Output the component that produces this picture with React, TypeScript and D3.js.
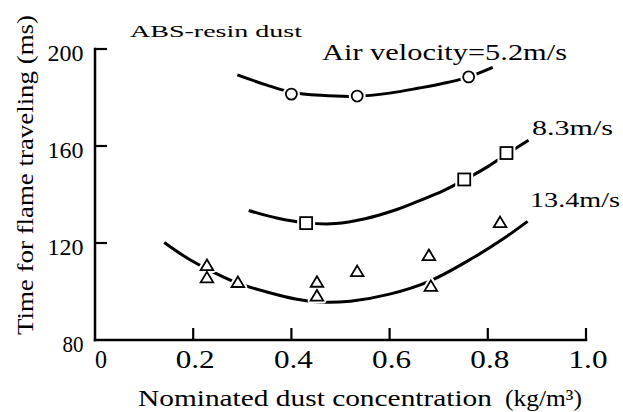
import React, { useLayoutEffect, useRef, useState } from "react";
import * as d3 from "d3";

// Measured points (x: kg/m³, y: ms)
const circles52: [number, number][] = [
  [0.4, 181.4],
  [0.534, 180.6],
  [0.761, 188.5],
];
const squares83: [number, number][] = [
  [0.43, 128.2],
  [0.752, 146.2],
  [0.838, 157.1],
];
const triangles134: [number, number][] = [
  [0.228, 110.5],
  [0.228, 105.4],
  [0.291, 103.5],
  [0.452, 103.6],
  [0.452, 97.9],
  [0.534, 108.0],
  [0.68, 114.6],
  [0.684, 101.9],
  [0.825, 128.2],
];

// Smoothed trend curves through the data
const curve52: [number, number][] = [
  [0.29, 189.3], [0.35, 185.1], [0.4, 182.2], [0.46, 180.9], [0.53, 180.5],
  [0.6, 181.8], [0.66, 183.9], [0.72, 186.3], [0.76, 188.4], [0.81, 192.4],
];
const curve83: [number, number][] = [
  [0.313, 133.4], [0.37, 130.3], [0.43, 128.3], [0.49, 128.0], [0.55, 130.0],
  [0.61, 133.5], [0.66, 137.4], [0.71, 141.6], [0.752, 146.0], [0.8, 151.5],
  [0.838, 156.6], [0.883, 162.4],
];
const curve134: [number, number][] = [
  [0.141, 120.2], [0.19, 113.5], [0.243, 107.8], [0.29, 103.5], [0.35, 99.8],
  [0.411, 96.8], [0.46, 95.6], [0.52, 96.0], [0.6, 98.9], [0.683, 104.4],
  [0.771, 114.0], [0.83, 121.5], [0.881, 128.9],
];

const xTicks = [0, 0.2, 0.4, 0.6, 0.8, 1.0];
const xTickLabels = ["0", "0.2", "0.4", "0.6", "0.8", "1.0"];
const yTicks = [80, 120, 160, 200];

const FONT = '"Liberation Serif", "DejaVu Serif", serif';

type FitProps = {
  px: number; // start of the baseline
  py: number;
  len: number; // run length of the text along its baseline
  cap: number; // cap height in px
  rot?: number;
  children: React.ReactNode;
};

// Text sized from its cap height and fitted to a given run length.
function FitText({ px, py, len, cap, rot = 0, children }: FitProps) {
  const ref = useRef<SVGTextElement>(null);
  const em = cap / 0.716;
  const [fit, setFit] = useState<{ s: number; len: number } | null>(null);

  useLayoutEffect(() => {
    const el = ref.current;
    if (!el) return;
    const b = el.getBBox();
    if (!b.width || !b.height) return;
    const s = (em * 1.14) / b.height;
    setFit({ s, len: len / s });
  }, [em, len]);

  const s = fit ? fit.s : 1;
  return (
    <text
      ref={ref}
      transform={`translate(${px},${py}) rotate(${rot}) scale(${s})`}
      x={0}
      y={0}
      fontSize={em}
      style={{ fontSize: `${em}px`, fontFamily: FONT }}
      fill="black"
      textLength={fit ? fit.len : undefined}
      lengthAdjust={fit ? "spacingAndGlyphs" : undefined}
    >
      {children}
    </text>
  );
}

export default function App() {
  const x = d3.scaleLinear().domain([0, 1]).range([95, 586]);
  const y = d3.scaleLinear().domain([80, 200]).range([340, 49]);

  const line = d3
    .line<[number, number]>()
    .x((d) => x(d[0]))
    .y((d) => y(d[1]))
    .curve(d3.curveCatmullRom.alpha(0.5));

  const triPath = (cx: number, cy: number) => {
    const w = 6.3;
    const h = 10.5;
    return `M${cx},${cy - h * 0.62} L${cx + w},${cy + h * 0.38} L${cx - w},${cy + h * 0.38} Z`;
  };

  const halo = { fill: "white", stroke: "white", strokeWidth: 6 };
  const mark = { fill: "white", stroke: "black", strokeWidth: 1.8 };

  return (
    <svg
      width={623}
      height={412}
      style={{ position: "absolute", left: 0, top: 0, background: "white" }}
    >
      <rect width={623} height={412} fill="white" />

      {/* curves */}
      {[curve52, curve83, curve134].map((c, i) => (
        <path key={i} d={line(c) || ""} fill="none" stroke="black" strokeWidth={3} />
      ))}

      {/* white halos to break the curves around markers */}
      {circles52.map((d, i) => (
        <circle key={"hc" + i} cx={x(d[0])} cy={y(d[1])} r={5.5} {...halo} />
      ))}
      {squares83.map((d, i) => (
        <rect key={"hs" + i} x={x(d[0]) - 6} y={y(d[1]) - 6} width={12} height={12} {...halo} />
      ))}
      {triangles134.map((d, i) => (
        <path key={"ht" + i} d={triPath(x(d[0]), y(d[1]))} {...halo} strokeLinejoin="round" />
      ))}

      {/* markers */}
      {circles52.map((d, i) => (
        <circle key={"c" + i} cx={x(d[0])} cy={y(d[1])} r={5.5} {...mark} />
      ))}
      {squares83.map((d, i) => (
        <rect key={"s" + i} x={x(d[0]) - 6} y={y(d[1]) - 6} width={12} height={12} {...mark} />
      ))}
      {triangles134.map((d, i) => (
        <path key={"t" + i} d={triPath(x(d[0]), y(d[1]))} {...mark} />
      ))}

      {/* axes */}
      <line x1={x(0)} x2={x(0)} y1={y(200)} y2={y(80)} stroke="black" strokeWidth={2.5} strokeLinecap="square" />
      <line x1={x(0)} x2={x(1)} y1={y(80)} y2={y(80)} stroke="black" strokeWidth={2.5} strokeLinecap="square" />
      {yTicks.filter((t) => t !== 80).map((t) => (
        <line key={"yt" + t} x1={x(0)} x2={x(0) + 12} y1={y(t)} y2={y(t)} stroke="black" strokeWidth={2.2} />
      ))}
      {xTicks.filter((t) => t !== 0).map((t) => (
        <line key={"xt" + t} x1={x(t)} x2={x(t)} y1={y(80)} y2={y(80) - 12} stroke="black" strokeWidth={2.2} />
      ))}

      {/* tick labels */}
      {yTicks.map((t) => {
        const w = t >= 100 ? 36 : 21;
        return (
          <FitText key={"yl" + t} px={83.5 - w} py={y(t) + 12} len={w} cap={16.5}>
            {t}
          </FitText>
        );
      })}
      {xTicks.map((t, i) =>
        i === 0 ? (
          <FitText key={"xl" + t} px={95} py={368} len={12} cap={17}>
            {xTickLabels[i]}
          </FitText>
        ) : (
          <FitText key={"xl" + t} px={x(t) + 2 - 19.5} py={368} len={39} cap={17}>
            {xTickLabels[i]}
          </FitText>
        )
      )}

      {/* annotations */}
      <FitText px={130} py={37} len={172} cap={12.5}>
        ABS-resin dust
      </FitText>
      <FitText px={322} py={60} len={245} cap={16.5}>
        Air velocity=5.2m/s
      </FitText>
      <FitText px={532} py={135} len={81} cap={15}>
        8.3m/s
      </FitText>
      <FitText px={530} py={207} len={90} cap={15}>
        13.4m/s
      </FitText>

      {/* axis titles */}
      <FitText px={33} py={335} len={320} cap={16} rot={-90}>
        Time for flame traveling (ms)
      </FitText>
      <FitText px={138} py={406} len={354} cap={16}>
        Nominated dust concentration
      </FitText>
      <FitText px={505} py={406} len={77} cap={16}>
        (kg/m³)
      </FitText>
    </svg>
  );
}
